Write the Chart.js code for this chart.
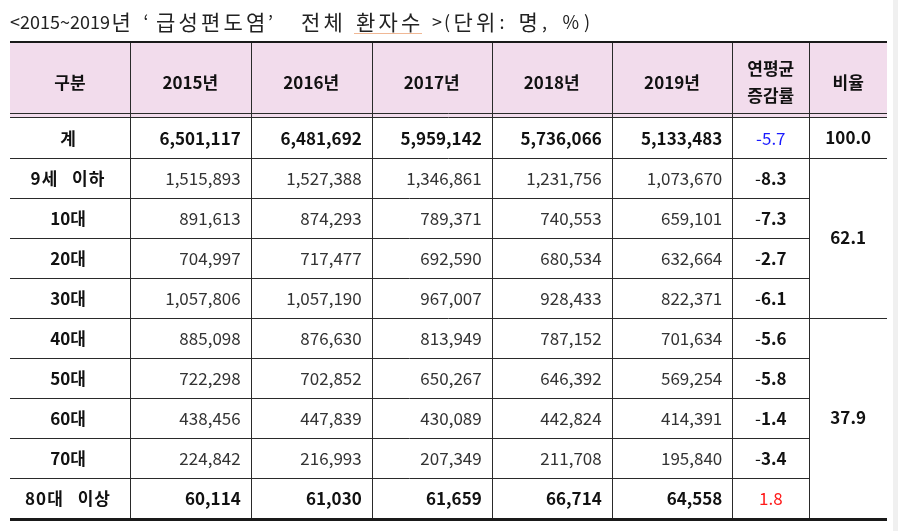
<!DOCTYPE html>
<html><head><meta charset="utf-8">
<script src="https://cdn.jsdelivr.net/npm/chart.js@4/dist/chart.umd.min.js"></script>
<style>html,body{margin:0;padding:0;background:#fff;overflow:hidden}#wrap{width:898px;height:531px;position:relative}canvas{display:block}</style>
</head><body><div id="wrap"><canvas id="c" width="898" height="531"></canvas></div>
<script>
// ---- data ----
const titleText = "<2015~2019년 ‘급성편도염’ 전체 환자수 >(단위: 명, %)";
const headerLabel = "구분";
const years = ["2015년", "2016년", "2017년", "2018년", "2019년"];
const rateHeader = ["연평균", "증감률"];
const ratioHeader = "비율";
const groups = ["계", "9세 이하", "10대", "20대", "30대", "40대", "50대", "60대", "70대", "80대 이상"];
const v2015 = [6501117, 1515893, 891613, 704997, 1057806, 885098, 722298, 438456, 224842, 60114];
const v2016 = [6481692, 1527388, 874293, 717477, 1057190, 876630, 702852, 447839, 216993, 61030];
const v2017 = [5959142, 1346861, 789371, 692590, 967007, 813949, 650267, 430089, 207349, 61659];
const v2018 = [5736066, 1231756, 740553, 680534, 928433, 787152, 646392, 442824, 211708, 66714];
const v2019 = [5133483, 1073670, 659101, 632664, 822371, 701634, 569254, 414391, 195840, 64558];
const growthRates = [-5.7, -8.3, -7.3, -2.7, -6.1, -5.6, -5.8, -1.4, -3.4, 1.8];
const ratioValues = [100.0, 62.1, 37.9];
const ratioSpans = [[0, 0], [1, 4], [5, 9]];

// ---- layout (not data) ----
const seriesValues = [v2015, v2016, v2017, v2018, v2019];
const colEdges = [0, 120, 240.7, 361.7, 481.7, 601.7, 722.3, 799.3, 877];
const headerRows = 1.86;
const boldRows = [0, 9];
const FONT = '"Noto Sans CJK KR", "Noto Sans", sans-serif';
const FS = 17;

function drawTitle(ctx) {
  const yc = 22;
  const advance = ch => ch === '‘' ? 12 : ((ch.charCodeAt(0) > 0x2000 || ch === '%') ? 22.5 : 10);
  let x = 10, ulStart = 0, ulEnd = 0;
  const idx = titleText.indexOf('환자수');
  ctx.save();
  ctx.textBaseline = 'middle';
  ctx.fillStyle = '#222';
  [...titleText].forEach((ch, i) => {
    const w = advance(ch);
    if (i === idx) ulStart = x;
    if (ch !== ' ') {
      ctx.font = (ch.charCodeAt(0) >= 0xAC00 ? 21 : 18) + 'px ' + FONT;
      if (ch === '‘' || ch === '’') { ctx.textAlign = 'left'; ctx.fillText(ch, x + 1, yc); }
      else { ctx.textAlign = 'center'; ctx.fillText(ch, x + w / 2, yc); }
    }
    x += w;
    if (i === idx + 2) ulEnd = x;
  });
  ctx.strokeStyle = '#e0702a';
  ctx.lineWidth = 1;
  ctx.setLineDash([1, 1]);
  ctx.beginPath(); ctx.moveTo(ulStart, 33.5); ctx.lineTo(ulEnd, 33.5); ctx.stroke();
  ctx.restore();
}

const tablePlugin = {
  id: 'tablePlugin',
  beforeDraw(chart) {
    const ctx = chart.ctx;
    ctx.save();
    ctx.fillStyle = '#ffffff';
    ctx.fillRect(0, 0, chart.width, chart.height);
    ctx.fillStyle = '#f0f0f0';
    ctx.fillRect(893, 0, 5, chart.height);
    ctx.restore();
  },
  afterDraw(chart) {
    const ctx = chart.ctx;
    const xs = chart.scales.x, ys = chart.scales.y;
    const X = v => xs.getPixelForValue(v);
    const Y = v => ys.getPixelForValue(v);
    const L = X(colEdges[0]), R = X(colEdges[colEdges.length - 1]);
    const top = Y(-headerRows), hb = Y(0), bottom = Y(groups.length);
    drawTitle(ctx);
    ctx.save();
    ctx.fillStyle = '#f2dcec';
    ctx.fillRect(L, top, R - L, hb - top);
    const hline = (y, x0, x1, w, col) => {
      ctx.strokeStyle = col; ctx.lineWidth = w;
      const yy = w % 2 ? Math.round(y) + 0.5 : Math.round(y);
      ctx.beginPath(); ctx.moveTo(x0, yy); ctx.lineTo(x1, yy); ctx.stroke();
    };
    const vline = (x, y0, y1) => {
      ctx.strokeStyle = '#2a2a2a'; ctx.lineWidth = 1;
      const xx = Math.round(x) + 0.5;
      ctx.beginPath(); ctx.moveTo(xx, y0); ctx.lineTo(xx, y1); ctx.stroke();
    };
    for (let i = 1; i < colEdges.length - 1; i++) vline(X(colEdges[i]), top, bottom);
    const ratioL = X(colEdges[colEdges.length - 2]);
    const spanStarts = ratioSpans.map(s => s[0]);
    for (let r = 1; r < groups.length; r++) {
      const end = spanStarts.includes(r) ? R : ratioL;
      hline(Y(r), L, end, 1, '#2a2a2a');
    }
    hline(hb - 4, L, R, 1, '#2a2a2a');
    hline(hb, L, R, 1, '#2a2a2a');
    hline(top - 1, L, R, 2, '#1a1a1a');
    hline(bottom + 0.5, L, R, 3, '#1a1a1a');

    ctx.textBaseline = 'middle';
    const cx = i => (X(colEdges[i]) + X(colEdges[i + 1])) / 2;
    const font = b => (b ? 'bold ' : '') + FS + 'px ' + FONT;
    const hy = (top + hb) / 2 + 2;
    ctx.fillStyle = '#111';
    ctx.font = font(true);
    ctx.textAlign = 'center';
    const headers = [headerLabel, ...years];
    headers.forEach((h, i) => ctx.fillText(h, cx(i), hy));
    ctx.fillText(rateHeader[0], cx(6), hy - 14);
    ctx.fillText(rateHeader[1], cx(6), hy + 13);
    ctx.fillText(ratioHeader, cx(7), hy);

    groups.forEach((g, r) => {
      const yc = (Y(r) + Y(r + 1)) / 2 + 1;
      const bold = boldRows.includes(r);
      ctx.textAlign = 'center';
      ctx.font = font(true);
      ctx.fillStyle = '#111';
      ctx.wordSpacing = '9px';
      ctx.letterSpacing = g.includes(' ') ? '1px' : '0px';
      ctx.fillText(g, cx(0) - 2, yc);
      ctx.wordSpacing = '0px';
      ctx.letterSpacing = '0px';
      ctx.textAlign = 'right';
      ctx.font = font(bold);
      ctx.fillStyle = bold ? '#111' : '#333';
      seriesValues.forEach((arr, k) => {
        ctx.fillText(arr[r].toLocaleString('en-US'), X(colEdges[k + 2]) - 10, yc);
      });
      const v = growthRates[r];
      const txt = Math.abs(v).toFixed(1);
      if (r === 0 || v > 0) {
        ctx.textAlign = 'center';
        ctx.font = font(false);
        ctx.fillStyle = v > 0 ? '#ff1a1a' : '#1a1aff';
        ctx.fillText((v < 0 ? '-' : '') + txt, cx(6), yc);
      } else {
        ctx.textAlign = 'left';
        ctx.font = font(false);
        const wm = ctx.measureText('-').width;
        ctx.font = font(true);
        const wd = ctx.measureText(txt).width;
        const x0 = cx(6) - (wm + wd) / 2;
        ctx.fillStyle = '#111';
        ctx.font = font(false);
        ctx.fillText('-', x0, yc);
        ctx.font = font(true);
        ctx.fillText(txt, x0 + wm, yc);
      }
    });
    ctx.textAlign = 'center';
    ctx.font = font(true);
    ctx.fillStyle = '#111';
    ratioSpans.forEach((s, i) => {
      const yc = (Y(s[0]) + Y(s[1] + 1)) / 2;
      ctx.fillText(ratioValues[i].toFixed(1), cx(7), yc);
    });
    ctx.restore();
  }
};

new Chart(document.getElementById('c'), {
  type: 'scatter',
  data: { labels: groups, datasets: [] },
  options: {
    responsive: false,
    animation: false,
    devicePixelRatio: 1,
    layout: { padding: { left: 10, right: 11, top: 43, bottom: 13 } },
    plugins: {
      legend: { display: false },
      tooltip: { enabled: false },
      title: { display: false }
    },
    scales: {
      x: { type: 'linear', display: false, min: colEdges[0], max: colEdges[colEdges.length - 1] },
      y: { type: 'linear', display: false, min: -headerRows, max: groups.length, reverse: true }
    }
  },
  plugins: [tablePlugin]
});
</script>
</body></html>
